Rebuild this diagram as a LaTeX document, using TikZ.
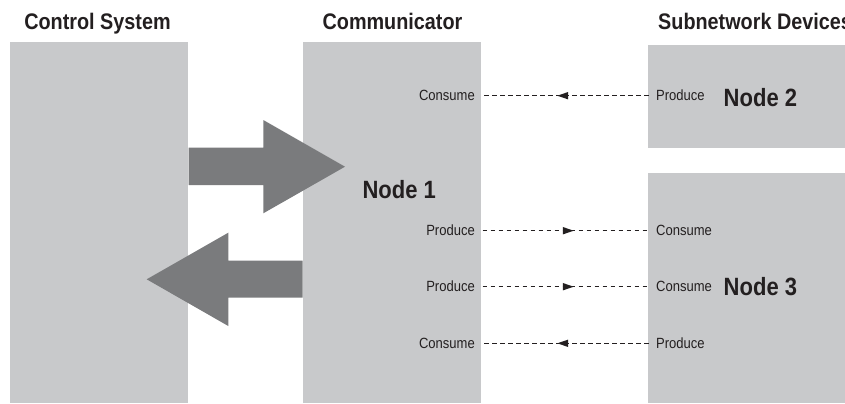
\documentclass[tikz,border=0pt]{standalone}
\usepackage{fontspec}
\setmainfont{Liberation Sans}[FakeStretch=0.88]
\usetikzlibrary{arrows.meta,decorations.markings}
\definecolor{boxgray}{HTML}{C8C9CB}
\definecolor{arrgray}{HTML}{7A7B7D}
\definecolor{ink}{HTML}{231F20}
\begin{document}
\begin{tikzpicture}[x=1bp,y=-1bp,
  panel/.style={fill=boxgray, draw=none, inner sep=0, outer sep=0, anchor=north west},
  title/.style={font=\fontsize{22.5bp}{26bp}\selectfont\bfseries, text=ink, inner sep=0},
  bignode/.style={font=\fontsize{25bp}{28bp}\selectfont\bfseries, text=ink, inner sep=0},
  lbl/.style={font=\fontsize{14.8bp}{17bp}\selectfont, text=ink, inner xsep=7.5bp, inner ysep=0},
  flow/.style={draw=ink, line width=1.5bp, dash pattern=on 4.5bp off 3.5bp,
    postaction={decorate},
    decoration={markings, mark=at position 0.55 with {\arrow{Triangle[length=11bp,width=7bp]}}}},
  blockarrow/.style={fill=arrgray, draw=none}]
\useasboundingbox (0,0) rectangle (845,403);
\fill[white] (0,0) rectangle (845,403);
\clip (0,0) rectangle (845,403);
% panels
\node[panel, minimum width=178bp, minimum height=361bp] (ctrl) at (10,42) {};
\node[panel, minimum width=178bp, minimum height=361bp] (comm) at (303,42) {};
\node[panel, minimum width=202bp, minimum height=102.7bp] (dev2) at (648,45) {};
\node[panel, minimum width=202bp, minimum height=230.3bp] (dev3) at (648,172.7) {};
% block arrows
\fill[blockarrow] (188.7,147.7) -- (263.3,147.7) -- (263.3,120) -- (345,166.7)
  -- (263.3,213.3) -- (263.3,185) -- (188.7,185) -- cycle;
\fill[blockarrow] (302.7,260.7) -- (228.3,260.7) -- (228.3,232.7) -- (146.7,279.3)
  -- (228.3,326) -- (228.3,297.7) -- (302.7,297.7) -- cycle;
% titles
\node[title, anchor=base] (t1) at (97.5,29) {Control System};
\node[title, anchor=base] (t2) at (392.5,29) {Communicator};
\node[title, anchor=base west] (t3) at (658,29) {Subnetwork Devices};
% node names
\node[bignode] (n1) at (399.2,189.2) {Node 1};
\node[bignode] (n2) at (760.4,97.8) {Node 2};
\node[bignode] (n3) at (760.4,287) {Node 3};
% labels
\node[lbl, anchor=east] (c1) at (482.5,95.7) {Consume};
\node[lbl, anchor=west] (p1) at (648.5,95.7) {Produce};
\node[lbl, anchor=east] (p2) at (482.5,230.7) {Produce};
\node[lbl, anchor=west] (c2) at (648.5,230.7) {Consume};
\node[lbl, anchor=east] (p3) at (482.5,286.7) {Produce};
\node[lbl, anchor=west] (c3) at (648.5,286.7) {Consume};
\node[lbl, anchor=east] (c4) at (482.5,343.3) {Consume};
\node[lbl, anchor=west] (p4) at (648.5,343.3) {Produce};
% connectors
\draw[flow] (p1.west) -- (c1.east);
\draw[flow] (p2.east) -- (c2.west);
\draw[flow] (p3.east) -- (c3.west);
\draw[flow] (p4.west) -- (c4.east);
\end{tikzpicture}
\end{document}
